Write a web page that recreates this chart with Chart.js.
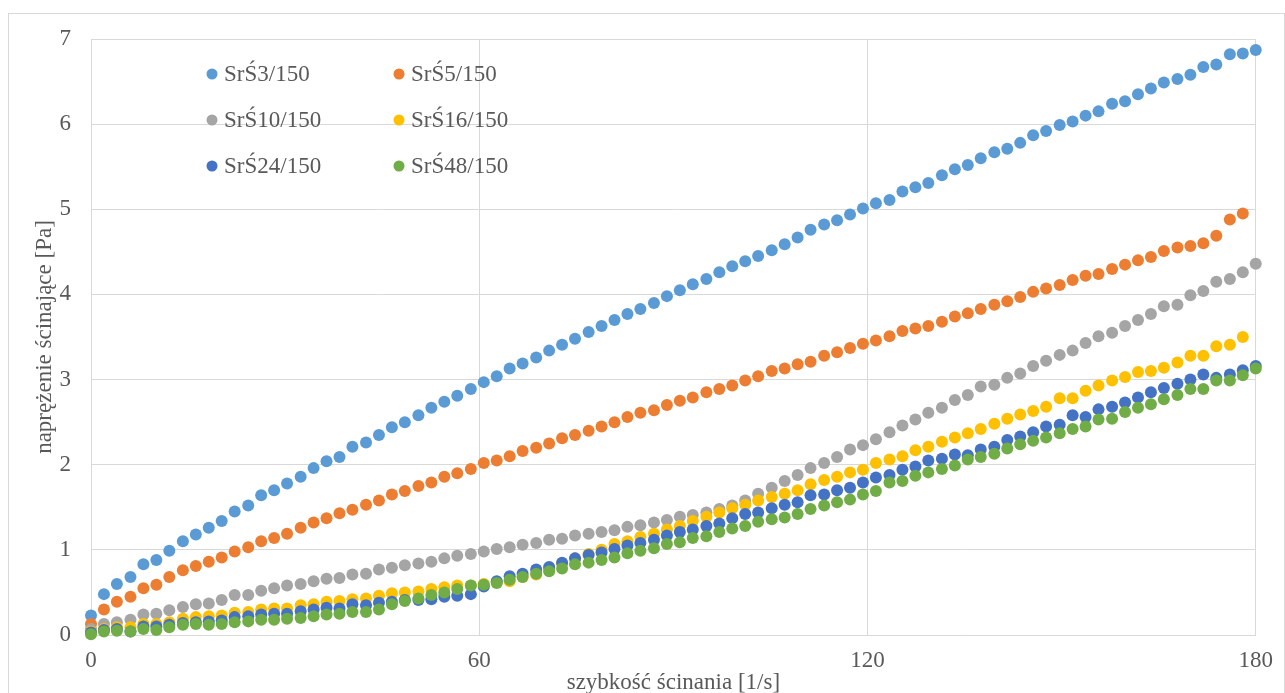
<!DOCTYPE html>
<html>
<head>
<meta charset="utf-8">
<script src="https://cdn.jsdelivr.net/npm/chart.js@4.4.1/dist/chart.umd.min.js"></script>
<style>
  body { margin: 0; background: #fff; }
  #frame { position: absolute; left: 8px; top: 13px; width: 1275px; height: 700px; border: 1px solid #d9d9d9; }
  #c { position: absolute; left: 0; top: 0; }
</style>
</head>
<body>
<div id="frame"></div>
<canvas id="c" width="1285" height="693"></canvas>
<script>
// shear rate [1/s]
shearRate = [
  0, 2.0, 4.0, 6.1, 8.1, 10.1, 12.1, 14.2, 16.2, 18.2,
  20.2, 22.2, 24.3, 26.3, 28.3, 30.3, 32.4, 34.4, 36.4, 38.4,
  40.4, 42.5, 44.5, 46.5, 48.5, 50.6, 52.6, 54.6, 56.6, 58.7,
  60.7, 62.7, 64.7, 66.7, 68.8, 70.8, 72.8, 74.8, 76.9, 78.9,
  80.9, 82.9, 84.9, 87.0, 89.0, 91.0, 93.0, 95.1, 97.1, 99.1,
  101.1, 103.1, 105.2, 107.2, 109.2, 111.2, 113.3, 115.3, 117.3, 119.3,
  121.3, 123.4, 125.4, 127.4, 129.4, 131.5, 133.5, 135.5, 137.5, 139.6,
  141.6, 143.6, 145.6, 147.6, 149.7, 151.7, 153.7, 155.7, 157.8, 159.8,
  161.8, 163.8, 165.8, 167.9, 169.9, 171.9, 173.9, 176.0, 178.0, 180.0
];

// shear stress [Pa]
s3 = [
  0.23, 0.48, 0.60, 0.68, 0.83, 0.88, 0.99, 1.10, 1.18, 1.26,
  1.34, 1.45, 1.52, 1.64, 1.70, 1.78, 1.86, 1.96, 2.04, 2.09,
  2.21, 2.26, 2.35, 2.44, 2.50, 2.58, 2.67, 2.74, 2.81, 2.89,
  2.97, 3.04, 3.13, 3.19, 3.26, 3.34, 3.41, 3.48, 3.56, 3.63,
  3.70, 3.77, 3.83, 3.90, 3.98, 4.05, 4.12, 4.18, 4.26, 4.33,
  4.39, 4.45, 4.52, 4.59, 4.67, 4.76, 4.82, 4.87, 4.94, 5.01,
  5.07, 5.11, 5.21, 5.26, 5.31, 5.40, 5.47, 5.52, 5.60, 5.67,
  5.71, 5.78, 5.87, 5.92, 5.99, 6.03, 6.10, 6.15, 6.24, 6.27,
  6.35, 6.42, 6.49, 6.53, 6.58, 6.67, 6.70, 6.82, 6.83, 6.87
];
s5 = [
  0.13, 0.30, 0.39, 0.45, 0.55, 0.59, 0.68, 0.76, 0.81, 0.86,
  0.91, 0.98, 1.03, 1.10, 1.14, 1.19, 1.26, 1.32, 1.37, 1.43,
  1.47, 1.53, 1.58, 1.65, 1.69, 1.75, 1.79, 1.86, 1.90, 1.95,
  2.02, 2.05, 2.10, 2.16, 2.20, 2.25, 2.31, 2.35, 2.40, 2.45,
  2.50, 2.56, 2.61, 2.64, 2.70, 2.75, 2.79, 2.85, 2.89, 2.93,
  2.99, 3.04, 3.10, 3.13, 3.18, 3.21, 3.28, 3.32, 3.37, 3.42,
  3.46, 3.51, 3.57, 3.60, 3.63, 3.68, 3.74, 3.78, 3.83, 3.88,
  3.92, 3.97, 4.03, 4.07, 4.11, 4.17, 4.22, 4.24, 4.30, 4.35,
  4.40, 4.44, 4.51, 4.55, 4.57, 4.60, 4.69, 4.88, 4.95, null
];
s10 = [
  0.07, 0.13, 0.15, 0.18, 0.24, 0.25, 0.29, 0.33, 0.36, 0.37,
  0.41, 0.47, 0.47, 0.52, 0.55, 0.58, 0.60, 0.63, 0.66, 0.67,
  0.71, 0.72, 0.77, 0.79, 0.82, 0.84, 0.86, 0.90, 0.93, 0.95,
  0.98, 1.01, 1.03, 1.06, 1.08, 1.12, 1.13, 1.17, 1.19, 1.21,
  1.23, 1.27, 1.29, 1.32, 1.35, 1.39, 1.41, 1.44, 1.48, 1.52,
  1.58, 1.66, 1.73, 1.81, 1.88, 1.96, 2.02, 2.09, 2.18, 2.23,
  2.30, 2.38, 2.46, 2.53, 2.61, 2.67, 2.76, 2.82, 2.92, 2.94,
  3.02, 3.07, 3.16, 3.22, 3.29, 3.34, 3.43, 3.51, 3.55, 3.63,
  3.70, 3.77, 3.86, 3.88, 3.99, 4.04, 4.15, 4.18, 4.26, 4.36
];
s16 = [
  0.04, 0.07, 0.09, 0.09, 0.13, 0.13, 0.15, 0.19, 0.21, 0.22,
  0.23, 0.26, 0.27, 0.30, 0.31, 0.31, 0.35, 0.36, 0.39, 0.40,
  0.42, 0.43, 0.46, 0.49, 0.50, 0.51, 0.54, 0.56, 0.58, 0.58,
  0.60, 0.62, 0.63, 0.68, 0.71, 0.78, 0.84, 0.90, 0.95, 1.00,
  1.07, 1.10, 1.15, 1.19, 1.24, 1.28, 1.34, 1.39, 1.44, 1.49,
  1.53, 1.58, 1.62, 1.66, 1.70, 1.77, 1.82, 1.86, 1.91, 1.94,
  2.02, 2.06, 2.10, 2.17, 2.21, 2.27, 2.32, 2.37, 2.42, 2.48,
  2.54, 2.59, 2.63, 2.68, 2.78, 2.78, 2.87, 2.93, 2.99, 3.03,
  3.09, 3.10, 3.14, 3.20, 3.28, 3.28, 3.39, 3.41, 3.50, null
];
s24 = [
  0.03, 0.06, 0.07, 0.04, 0.10, 0.10, 0.12, 0.14, 0.15, 0.16,
  0.17, 0.21, 0.22, 0.24, 0.25, 0.25, 0.28, 0.30, 0.32, 0.31,
  0.36, 0.35, 0.38, 0.39, 0.41, 0.41, 0.42, 0.45, 0.46, 0.48,
  0.57, 0.63, 0.69, 0.72, 0.77, 0.80, 0.85, 0.90, 0.94, 0.97,
  1.01, 1.05, 1.08, 1.12, 1.17, 1.21, 1.24, 1.28, 1.31, 1.37,
  1.42, 1.44, 1.49, 1.53, 1.56, 1.64, 1.65, 1.70, 1.73, 1.79,
  1.85, 1.88, 1.94, 1.98, 2.05, 2.07, 2.12, 2.11, 2.18, 2.21,
  2.29, 2.33, 2.38, 2.45, 2.47, 2.58, 2.56, 2.65, 2.68, 2.73,
  2.79, 2.85, 2.90, 2.95, 3.00, 3.06, 3.02, 3.06, 3.11, 3.16
];
s48 = [
  0.01, 0.04, 0.05, 0.04, 0.07, 0.06, 0.09, 0.12, 0.13, 0.12,
  0.13, 0.15, 0.16, 0.18, 0.18, 0.19, 0.20, 0.22, 0.24, 0.25,
  0.27, 0.27, 0.30, 0.36, 0.40, 0.43, 0.47, 0.50, 0.54, 0.58,
  0.59, 0.61, 0.65, 0.68, 0.72, 0.75, 0.78, 0.83, 0.85, 0.88,
  0.91, 0.96, 0.99, 1.02, 1.07, 1.09, 1.14, 1.16, 1.21, 1.25,
  1.28, 1.33, 1.36, 1.38, 1.42, 1.48, 1.52, 1.56, 1.59, 1.65,
  1.69, 1.79, 1.81, 1.87, 1.91, 1.95, 1.99, 2.06, 2.09, 2.13,
  2.19, 2.24, 2.28, 2.32, 2.37, 2.42, 2.45, 2.53, 2.54, 2.62,
  2.67, 2.71, 2.77, 2.82, 2.89, 2.89, 2.99, 2.99, 3.05, 3.13
];

seriesNames = ['SrŚ3/150', 'SrŚ5/150', 'SrŚ10/150', 'SrŚ16/150', 'SrŚ24/150', 'SrŚ48/150'];
seriesValues = [s3, s5, s10, s16, s24, s48];
seriesColors = ['#5b9bd5', '#ed7d31', '#a5a5a5', '#ffc000', '#4472c4', '#70ad47'];

xTicks = [0, 60, 120, 180];

FONT = '"Liberation Serif", "Times New Roman", serif';
TEXT = '#595959';
GRID = '#d9d9d9';

function points(vals) {
  var out = [];
  for (var i = 0; i < vals.length; i++) {
    if (vals[i] !== null) out.push({x: shearRate[i], y: vals[i]});
  }
  return out;
}

datasets = seriesNames.map(function (name, i) {
  return {
    label: name,
    data: points(seriesValues[i]),
    backgroundColor: seriesColors[i],
    borderColor: seriesColors[i],
    pointRadius: 6,
    pointBorderWidth: 0,
    pointHoverRadius: 6,
    showLine: false,
    clip: false,
    order: seriesNames.length - 1 - i   // later series on top, like Excel
  };
});

// legend drawn inside the plot, two columns x three rows
insideLegend = {
  id: 'insideLegend',
  afterDatasetsDraw: function (chart) {
    var ctx = chart.ctx;
    var colX = [212, 399];
    var rowY = [74, 120, 166];
    ctx.save();
    ctx.font = '23px ' + FONT;
    ctx.textBaseline = 'middle';
    ctx.textAlign = 'left';
    chart.data.datasets.forEach(function (ds, i) {
      var x = colX[i % 2], y = rowY[Math.floor(i / 2)];
      ctx.fillStyle = ds.backgroundColor;
      ctx.beginPath();
      ctx.arc(x, y, 5.5, 0, Math.PI * 2);
      ctx.fill();
      ctx.fillStyle = TEXT;
      ctx.fillText(ds.label, x + 12, y + 1);
    });
    ctx.restore();
  }
};

config = {
  type: 'scatter',
  data: {datasets: datasets},
  options: {
    responsive: false,
    animation: false,
    devicePixelRatio: 1,
    layout: {padding: {left: 0, top: 39, right: 28, bottom: 0}},
    plugins: {
      legend: {display: false},
      tooltip: {enabled: false}
    },
    scales: {
      x: {
        type: 'linear',
        min: 0,
        max: 180,
        afterBuildTicks: function (scale) {
          scale.ticks = xTicks.map(function (v) { return {value: v}; });
        },
        afterFit: function (scale) { scale.height = 58; },
        grid: {color: GRID, lineWidth: 1, drawTicks: false},
        border: {color: GRID},
        ticks: {color: TEXT, font: {family: FONT, size: 23}, padding: 12, maxRotation: 0},
        title: {
          display: true,
          text: 'szybkość ścinania [1/s]',
          color: TEXT,
          font: {family: FONT, size: 23, lineHeight: '20px'},
          padding: {top: 0, bottom: 0}
        }
      },
      y: {
        min: 0,
        max: 7,
        afterFit: function (scale) { scale.width = 91; },
        grid: {color: GRID, lineWidth: 1, drawTicks: false},
        border: {color: GRID},
        ticks: {stepSize: 1, color: TEXT, font: {family: FONT, size: 23}, padding: 20},
        title: {
          display: true,
          text: 'naprężenie ścinające [Pa]',
          color: TEXT,
          font: {family: FONT, size: 23, lineHeight: '20px'},
          padding: {top: 35, bottom: 0}
        }
      }
    }
  },
  plugins: [insideLegend]
};

ctx = document.getElementById('c').getContext('2d');
myChart = new Chart(ctx, config);
</script>
</body>
</html>
